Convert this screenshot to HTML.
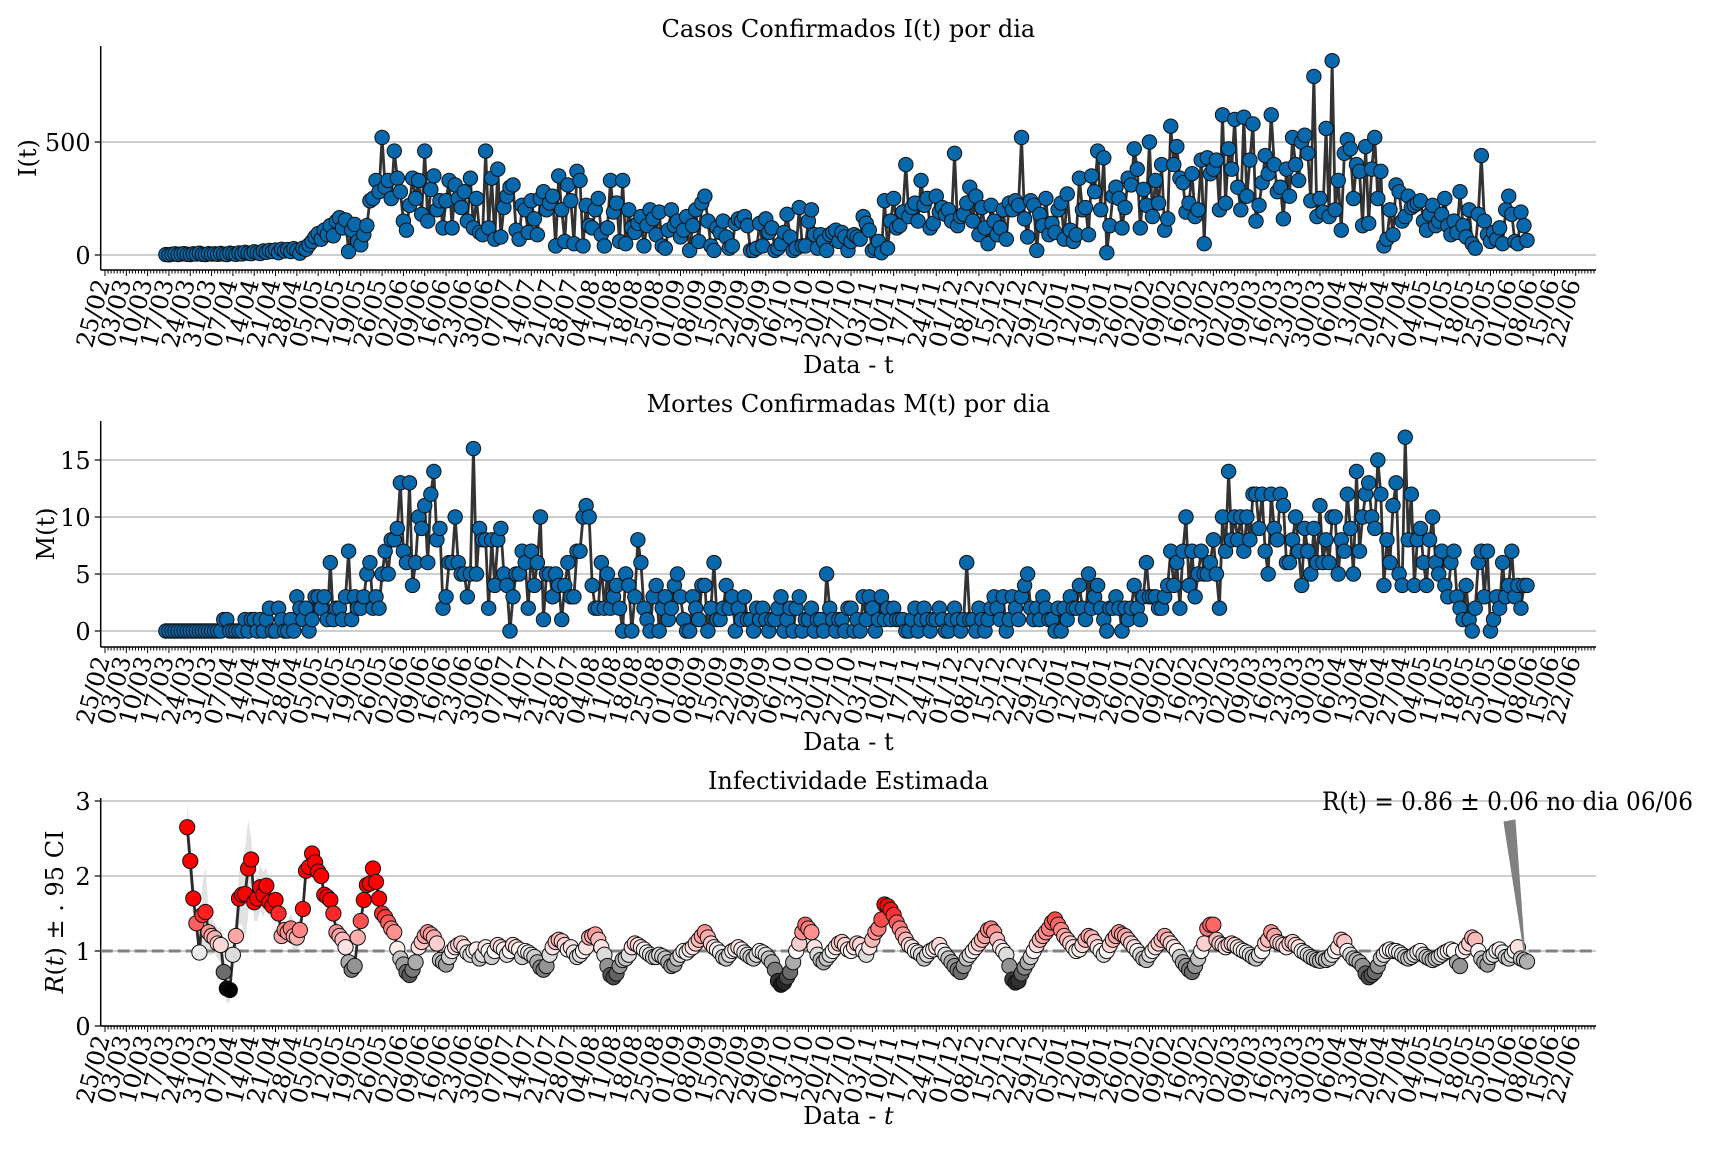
<!DOCTYPE html>
<html><head><meta charset="utf-8"><title>Casos, Mortes e Infectividade</title>
<style>
html,body{margin:0;padding:0;background:#fff;}
svg{display:block;font-family:"DejaVu Serif","Liberation Serif",serif;}
</style></head>
<body>
<svg id="fig" width="1728" height="1152" viewBox="0 0 1728 1152" xmlns="http://www.w3.org/2000/svg">
  <g id="p1"></g>
  <g id="p2"></g>
  <g id="p3"></g>
</svg>
<script>
// ---- data ----
// I(t): daily confirmed cases starting 16/03/2020
const casesStartDay = 20;
const casesValues = [
2,1,3,5,2,4,6,3,2,5,4,8,3,2,6,4,
5,3,7,4,2,8,6,3,9,5,12,8,6,14,10,7,18,12,20,15,22,10,25,18,24,15,28,20,8,30,
25,45,60,80,95,70,110,90,130,85,150,165,120,155,15,110,135,60,45,90,130,240,250,330,280,520,300,330,250,460,340,
280,150,110,220,340,250,330,180,460,150,290,350,200,240,120,240,330,120,310,250,210,280,150,340,120,250,100,90,460,120,
340,70,380,80,210,260,300,310,110,70,220,200,100,240,160,90,250,280,200,230,260,40,350,200,60,310,240,50,370,330,40,
220,130,120,200,250,90,40,120,330,190,230,60,330,50,200,120,100,140,170,40,130,200,160,90,190,40,30,110,200,130,150,
80,110,170,20,130,200,60,230,260,150,40,20,120,100,150,80,30,40,140,160,150,170,130,20,20,30,140,40,160,100,
120,20,30,50,100,180,80,20,30,210,40,40,150,200,90,30,90,60,20,90,100,110,60,100,80,20,60,90,80,70,170,
140,110,20,30,60,10,240,30,150,250,120,130,190,400,170,210,230,150,330,220,250,120,140,260,190,210,180,200,150,450,
130,170,180,230,300,150,260,90,210,120,50,220,150,90,120,200,70,230,200,240,220,520,160,80,240,220,20,180,130,250,90,
140,100,200,230,70,270,110,60,90,340,200,210,90,350,280,460,200,430,10,130,260,300,250,120,210,340,310,470,380,120,290,
220,500,170,330,230,400,110,160,570,400,480,340,320,190,230,360,170,200,420,50,430,360,380,420,200,620,230,470,
380,600,300,200,610,260,420,580,150,220,320,440,360,620,400,280,300,160,380,260,520,400,330,500,530,450,240,790,170,250,190,
560,170,860,200,330,110,450,510,470,250,400,370,130,480,140,380,520,250,370,40,70,200,90,310,280,150,170,260,210,220,
230,240,150,110,180,220,130,150,180,250,130,90,150,100,280,130,80,200,50,30,180,440,150,90,60,100,70,120,50,200,260,
180,60,50,190,130,65
];
// M(t): daily confirmed deaths starting 16/03/2020
const deathsStartDay = 20;
const deathsValues = [
0,0,0,0,0,0,0,0,0,0,0,0,0,0,0,0,
0,0,0,1,1,0,0,0,0,0,1,0,1,1,0,1,0,1,2,0,0,2,1,0,0,1,0,3,2,1,
2,0,1,3,3,2,3,1,6,1,2,2,1,3,7,1,3,2,2,3,5,6,2,3,2,5,7,5,8,8,9,
13,7,6,13,4,6,10,9,11,6,12,14,8,9,2,3,6,6,10,6,5,5,3,5,16,5,9,8,8,2,
8,4,8,9,5,4,0,3,5,5,7,6,2,7,4,6,10,1,5,5,3,5,4,1,4,6,3,3,7,7,10,
11,10,4,2,2,6,2,5,2,3,4,2,0,5,4,0,3,8,6,2,1,0,3,4,0,2,3,1,2,4,5,
3,1,0,0,3,2,1,4,4,0,2,6,1,1,2,4,2,3,0,2,1,3,1,1,0,2,1,2,1,0,
1,1,2,3,0,1,2,0,2,3,0,1,1,2,0,1,1,0,5,2,1,0,1,1,0,2,2,0,1,0,3,
1,3,2,0,1,3,1,2,1,2,1,1,1,0,0,1,2,0,1,2,1,0,1,1,2,1,0,0,1,2,
1,0,1,6,1,1,0,2,1,0,1,2,3,2,1,3,0,1,3,2,1,3,4,5,2,1,2,1,3,2,1,
1,0,2,0,2,1,3,2,2,4,2,1,5,2,3,4,2,1,0,2,2,3,2,0,2,1,2,4,2,1,3,
6,3,3,3,2,2,3,4,7,4,6,2,7,10,4,7,3,5,7,5,5,6,8,5,2,10,7,14,
8,10,8,10,7,10,8,12,12,9,12,7,5,12,9,8,12,11,6,6,8,10,7,4,9,7,5,9,6,11,6,
8,6,10,10,5,8,7,12,9,5,14,7,10,12,13,10,9,15,12,4,8,6,11,13,5,4,17,8,12,4,
8,9,6,4,8,10,6,5,7,4,3,6,7,3,2,1,4,1,0,2,6,7,3,7,0,1,3,2,6,3,4,
7,3,4,2,4,4
];
// R(t): estimated infectivity starting 23/03/2020
const rtStartDay = 27;
const rtValues = [
2.65,2.2,1.7,1.37,0.98,1.48,1.52,1.25,1.2,
1.17,1.1,1.08,0.72,0.5,0.48,0.95,1.2,1.7,1.75,1.76,2.1,2.22,1.65,1.7,1.85,1.75,1.87,1.65,1.6,1.68,1.5,1.2,1.28,1.25,1.3,1.2,1.18,1.28,1.56,
2.07,2.12,2.3,2.18,2.06,2.0,1.75,1.72,1.68,1.5,1.25,1.2,1.15,1.05,0.85,0.75,0.8,1.18,1.4,1.68,1.88,1.9,2.1,1.92,1.7,1.5,1.45,1.38,1.3,1.25,1.03,
0.9,0.82,0.72,0.68,0.75,0.85,1.05,1.12,1.2,1.25,1.22,1.18,1.1,0.88,0.85,0.82,0.92,1.0,1.05,1.08,1.1,1.05,0.98,0.95,1.0,1.02,0.9,0.95,1.05,1.0,
0.92,1.0,1.08,1.05,1.02,0.95,1.0,1.08,1.05,1.02,0.92,1.0,0.98,0.95,0.92,0.85,0.78,0.75,0.8,0.95,1.05,1.12,1.15,1.13,1.08,1.02,1.05,0.98,0.92,0.95,1.0,
1.05,1.18,1.2,1.22,1.15,1.05,0.95,0.8,0.68,0.65,0.7,0.8,0.88,0.9,0.95,1.05,1.1,1.08,1.05,1.02,0.98,0.95,0.92,0.92,0.95,0.93,0.9,0.85,0.8,0.82,0.9,
0.95,1.0,0.98,1.02,1.05,1.1,1.15,1.2,1.25,1.18,1.1,1.05,1.02,0.98,0.92,0.9,0.95,1.0,1.02,1.05,1.02,0.98,0.95,0.92,0.9,0.95,1.0,0.98,0.95,0.9,
0.85,0.75,0.6,0.55,0.58,0.65,0.72,0.85,1.0,1.1,1.25,1.35,1.3,1.25,1.05,0.95,0.88,0.85,0.9,0.95,1.0,1.05,1.1,1.12,1.08,1.02,1.0,1.05,1.1,1.08,1.0,
0.95,1.05,1.15,1.25,1.3,1.42,1.62,1.6,1.55,1.48,1.38,1.3,1.22,1.15,1.08,1.05,1.0,0.98,0.95,0.9,0.95,1.0,1.02,1.05,1.08,1.0,0.95,0.9,0.85,0.8,
0.75,0.72,0.8,0.9,0.95,1.0,1.05,1.1,1.15,1.2,1.28,1.3,1.25,1.15,1.05,1.0,0.95,0.8,0.62,0.58,0.6,0.7,0.78,0.85,0.92,1.0,1.08,1.15,1.2,1.25,1.3,
1.38,1.42,1.35,1.28,1.2,1.15,1.1,1.05,1.0,1.02,1.08,1.15,1.2,1.18,1.12,1.05,1.0,0.95,1.0,1.08,1.15,1.2,1.25,1.22,1.2,1.15,1.1,1.05,1.0,0.95,0.9,
0.88,0.95,1.0,1.05,1.1,1.15,1.2,1.15,1.1,1.05,1.0,0.92,0.85,0.8,0.75,0.72,0.8,0.9,1.0,1.1,1.3,1.35,1.35,1.15,1.1,1.08,1.05,1.08,
1.1,1.08,1.05,1.02,1.0,0.98,0.95,0.92,0.9,0.95,1.0,1.1,1.15,1.25,1.2,1.12,1.1,1.08,1.05,1.1,1.12,1.08,1.05,1.0,0.98,0.95,0.92,0.9,0.88,0.87,0.9,
0.88,0.9,0.95,1.0,1.05,1.15,1.12,1.0,0.95,0.9,0.88,0.85,0.8,0.7,0.65,0.68,0.72,0.8,0.9,0.95,1.0,1.02,1.0,1.0,0.98,0.95,0.92,0.9,0.92,0.95,
0.98,1.0,0.95,0.92,0.9,0.88,0.9,0.92,0.95,0.98,1.0,1.02,1.0,0.85,0.8,1.0,1.05,1.1,1.18,1.15,1.0,0.9,0.85,0.82,0.92,0.95,1.0,1.02,0.98,0.92,0.9,
0.95,1.0,1.05,0.9,0.88,0.86
];
// 95% CI half-widths for first weeks of R(t); later value constant
const rtCiEarly = [0.35,0.3,0.3,0.2,0.15,0.4,0.6,0.3,0.25,0.2,0.2,0.25,0.25,0.2,0.15,0.2,0.3,0.35,0.4,0.6,0.65,0.3,0.25,0.3,0.3,0.3,0.25,0.2,0.15,0.15,0.12,0.12,0.12,0.12,0.2,0.2,0.2,0.15,0.12,0.1];
const rtCiLate = [0.06];
const casesTicks = [0, 500];
const deathsTicks = [0, 5, 10, 15];
const rtTicks = [0, 1, 2, 3];
const annotationText = ["R(t) = 0.86 ± 0.06 no dia 06/06"];

// ---- layout ----
const NS = "http://www.w3.org/2000/svg";
const X0 = 105, PXD = 3.045, AXL = 100.7, AXR = 1596;
const FS = 24;
function xDay(d){ return X0 + d*PXD; }
const panels = {
  p1:{y0:255, k:0.226, top:46, spine:270, title:"Casos Confirmados I(t) por dia"},
  p2:{y0:631, k:11.4, top:421, spine:647, title:"Mortes Confirmadas M(t) por dia"},
  p3:{y0:1026, k:75, top:798, spine:1026, title:"Infectividade Estimada"}
};
function yv(p, v){ return p.y0 - v*p.k; }
function el(tag, attrs, parent){
  const e = document.createElementNS(NS, tag);
  for (const a in attrs) e.setAttribute(a, attrs[a]);
  if (parent) parent.appendChild(e);
  return e;
}

function drawFrame(g, p, ticks){
  const title = el("text", {x:(AXL+AXR)/2, y:p.top-9, "text-anchor":"middle", "font-size":FS, fill:"#000"}, g);
  title.textContent = p.title;
  
  
  ticks.forEach(t=>{
    const y = yv(p,t);
    const gl = el("line", {x1:AXL, x2:AXR, y1:y, y2:y, stroke:"#b0b0b0", "stroke-width":1.2}, g);
    
    
    el("line", {x1:AXL-6, x2:AXL, y1:y, y2:y, stroke:"#000", "stroke-width":1.2}, g);
    const tl = el("text", {x:AXL-10, y:y+9, "text-anchor":"end", "font-size":FS, fill:"#000"}, g);
    tl.textContent = String(t);
    
    
  });
  const base = Date.UTC(2020,1,25);
  for (let d=0; d<=489; d++){
    const x = xDay(d);
    if (x < AXL || x > AXR) continue;
    const major = d % 7 === 0;
    el("line", {x1:x, x2:x, y1:p.spine, y2:p.spine+(major?6:3.5), stroke:"#000", "stroke-width":1}, g);
    if (major && d <= 483){
      const dt = new Date(base + d*86400000);
      const s = String(dt.getUTCDate()).padStart(2,"0")+"/"+String(dt.getUTCMonth()+1).padStart(2,"0");
      const tx = x+5, ty = p.spine+12;
      const lab = el("text", {x:tx, y:ty, "text-anchor":"end", "font-size":FS, fill:"#000",
        transform:`rotate(-75 ${tx} ${ty})`}, g);
      lab.textContent = s;
      
      
    }
  }
  const ls = el("line", {x1:AXL, x2:AXL, y1:p.top, y2:p.spine, stroke:"#000", "stroke-width":1.5}, g);
  
  
  const bs = el("line", {x1:AXL, x2:AXR, y1:p.spine, y2:p.spine, stroke:"#000", "stroke-width":1.5}, g);
  
  
}

function drawSeries(g, p, startDay, vals, name){
  let d = "";
  vals.forEach((v,i)=>{ d += (i?"L":"M") + xDay(startDay+i).toFixed(2) + " " + yv(p,v).toFixed(2); });
  const line = el("path", {d, fill:"none", stroke:"#333", "stroke-width":2.8, "stroke-linejoin":"round"}, g);
  
  
  vals.forEach((v,i)=>{
    const c = el("circle", {cx:xDay(startDay+i), cy:yv(p,v), r:7.2, fill:"#0868ac", stroke:"#111", "stroke-width":1}, g);
    
    
  });
}

const g1 = document.getElementById("p1");
drawFrame(g1, panels.p1, casesTicks);
drawSeries(g1, panels.p1, casesStartDay, casesValues, "cases");
const g2 = document.getElementById("p2");
drawFrame(g2, panels.p2, deathsTicks);
drawSeries(g2, panels.p2, deathsStartDay, deathsValues, "deaths");
const g3 = document.getElementById("p3");
const P3 = panels.p3;
drawFrame(g3, P3, rtTicks);
(function(){
  let up = "", dn = "";
  rtValues.forEach((v,i)=>{
    const ci = i < rtCiEarly.length ? rtCiEarly[i] : rtCiLate[0];
    const x = xDay(rtStartDay+i).toFixed(2);
    up += (i?"L":"M") + x + " " + Math.max(yv(P3, v+ci), P3.top).toFixed(2);
  });
  for (let i=rtValues.length-1;i>=0;i--){
    const ci = i < rtCiEarly.length ? rtCiEarly[i] : rtCiLate[0];
    dn += "L" + xDay(rtStartDay+i).toFixed(2) + " " + yv(P3, rtValues[i]-ci).toFixed(2);
  }
  const band = el("path", {d: up+dn+"Z", fill:"#d8d8d8", "fill-opacity":0.75, stroke:"none"}, g3);
  
  
  const ref = el("line", {x1:AXL, x2:AXR, y1:yv(P3,1), y2:yv(P3,1), stroke:"#808080", "stroke-width":3, "stroke-dasharray":"12 5"}, g3);
  
  
  let d = "";
  rtValues.forEach((v,i)=>{ d += (i?"L":"M") + xDay(rtStartDay+i).toFixed(2) + " " + yv(P3,v).toFixed(2); });
  const line = el("path", {d, fill:"none", stroke:"#2a2a2a", "stroke-width":2.8, "stroke-linejoin":"round"}, g3);
  
  
  function col(v){
    if (v >= 1){
      const t = Math.min((v-1)/0.6, 1);
      const gb = Math.round(248*(1-t));
      return `rgb(255,${gb},${gb})`;
    } else {
      const t = Math.min((1-v)/0.5, 1);
      const c = Math.round(245*(1-t));
      return `rgb(${c},${c},${c})`;
    }
  }
  rtValues.forEach((v,i)=>{
    const c = el("circle", {cx:xDay(rtStartDay+i), cy:yv(P3,v), r:7.6, fill:col(v), stroke:"#111", "stroke-width":1}, g3);
    
    
  });
  const lastX = xDay(rtStartDay+rtValues.length-1), lastY = yv(P3, rtValues[rtValues.length-1]);
  const arrow = el("polygon", {points:`1504,822 1515,820 ${lastX-2},${lastY-4}`, fill:"#808080", stroke:"#808080", "stroke-width":1}, g3);
  
  
  const at = el("text", {x:1322, y:810, "font-size":25, fill:"#000", textLength:371, lengthAdjust:"spacingAndGlyphs"}, g3);
  at.textContent = annotationText[0];
  
  
})();

const svg = document.getElementById("fig");
function yLabel(x, y, parts, name){
  const t = el("text", {x, y, "text-anchor":"middle", "font-size":FS, fill:"#000", transform:`rotate(-90 ${x} ${y})`}, svg);
  parts.forEach(pt=>{
    const s = el("tspan", pt.italic ? {"font-style":"italic"} : {}, t);
    s.textContent = pt.s;
  });
  
  
}
yLabel(36, 158, [{s:"I(t)"}], "y-axis-title-cases");
yLabel(54, 534, [{s:"M(t)"}], "y-axis-title-deaths");
yLabel(63, 912, [{s:"R",italic:true},{s:"("},{s:"t",italic:true},{s:") ± . 95 CI"}], "y-axis-title-rt");
function xLabel(y, parts, name){
  const t = el("text", {x:(AXL+AXR)/2, y, "text-anchor":"middle", "font-size":FS, fill:"#000"}, svg);
  parts.forEach(pt=>{
    const s = el("tspan", pt.italic ? {"font-style":"italic"} : {}, t);
    s.textContent = pt.s;
  });
  
  
}
xLabel(373, [{s:"Data - t"}], "x-axis-title-cases");
xLabel(750, [{s:"Data - t"}], "x-axis-title-deaths");
xLabel(1124, [{s:"Data - "},{s:"t",italic:true}], "x-axis-title-rt");
</script>
</body></html>
